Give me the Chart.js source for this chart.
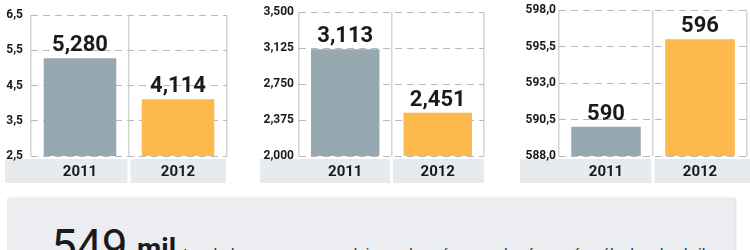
<!DOCTYPE html>
<html>
<head>
<meta charset="utf-8">
<script src="https://cdn.jsdelivr.net/npm/chart.js@4/dist/chart.umd.min.js"></script>
<style>
  html, body { margin: 0; padding: 0; background: #ffffff; }
  body { width: 750px; height: 250px; position: relative; overflow: hidden; font-family: Roboto, "Liberation Sans", sans-serif; }
  .panel { position: absolute; top: 0; width: 250px; height: 190px; }
  #p1 { left: 0; } #p2 { left: 250px; } #p3 { left: 500px; }
  #box { position: absolute; left: 7px; top: 198px; width: 727px; height: 60px; background: #ecedf0;
         box-shadow: 2px 0 2px rgba(0,0,0,0.12); }
  .t { position: absolute; white-space: nowrap; color: #1a1a1a; line-height: 1; font-family: Roboto, sans-serif; }
  #big { left: 51px; top: 223px; font-size: 46px; font-weight: 400; letter-spacing: -0.5px; }
  #mil { left: 137px; top: 235px; font-size: 28px; font-weight: 700; }
  #txt { left: 183px; top: 246.5px; font-size: 15.5px; font-weight: 400; color: #333; }
</style>
</head>
<body>
<div class="panel" id="p1"><canvas id="c1" width="250" height="190"></canvas></div>
<div class="panel" id="p2"><canvas id="c2" width="250" height="190"></canvas></div>
<div class="panel" id="p3"><canvas id="c3" width="250" height="190"></canvas></div>
<div id="box"></div>
<span class="t" id="big">549</span>
<span class="t" id="mil">mil</span>
<span class="t" id="txt">toneladas menos se produjeron de azúcar en el país, según cálculos de abril</span>
<script>
// ---- data ----
const categories = ["2011", "2012"];

const values1 = [5.280, 4.114];
const valueLabels1 = ["5,280", "4,114"];
const ticks1 = [2.5, 3.5, 4.5, 5.5, 6.5];
const tickLabels1 = ["2,5", "3,5", "4,5", "5,5", "6,5"];

const values2 = [3.113, 2.451];
const valueLabels2 = ["3,113", "2,451"];
const ticks2 = [2.0, 2.375, 2.75, 3.125, 3.5];
const tickLabels2 = ["2,000", "2,375", "2,750", "3,125", "3,500"];

const values3 = [590, 596];
const valueLabels3 = ["590", "596"];
const ticks3 = [588.0, 590.5, 593.0, 595.5, 598.0];
const tickLabels3 = ["588,0", "590,5", "593,0", "595,5", "598,0"];

const barColors = ["#97a9b0", "#fdb94c"];

// ---- plugins ----
const bandPlugin = {
  id: 'band',
  beforeDraw(chart) {
    const ctx = chart.ctx, x = chart.scales.x, y = chart.scales.y, ca = chart.chartArea;
    const mid = (x.getPixelForValue(0) + x.getPixelForValue(1)) / 2;
    const top = ca.bottom + 3, h = 24;
    ctx.save();
    ctx.fillStyle = '#e8ebee';
    ctx.fillRect(y.left, top, mid - 1.5 - y.left, h);
    ctx.fillRect(mid + 1.5, top, chart.options.bandRight - mid - 1.5, h);
    ctx.restore();
  }
};
const valuePlugin = {
  id: 'vals',
  afterDatasetsDraw(chart) {
    const ctx = chart.ctx;
    const meta = chart.getDatasetMeta(0);
    const labels = chart.options.valueLabels;
    ctx.save();
    ctx.font = '700 22px Roboto, "Liberation Sans", sans-serif';
    ctx.fillStyle = '#1a1a1a';
    ctx.textAlign = 'center';
    ctx.textBaseline = 'alphabetic';
    meta.data.forEach((bar, i) => {
      ctx.fillText(labels[i], bar.x, bar.y - 7);
    });
    ctx.restore();
  }
};

function makeChart(id, values, valueLabels, tickVals, tickLabels, cfg) {
  const min = tickVals[0], max = tickVals[tickVals.length - 1];
  return new Chart(document.getElementById(id), {
    type: 'bar',
    data: {
      labels: categories,
      datasets: [{ data: values, backgroundColor: barColors, borderWidth: 0,
                   categoryPercentage: 1, barPercentage: 0.74 }]
    },
    options: {
      responsive: false,
      animation: false,
      valueLabels: valueLabels,
      bandRight: cfg.bandRight,
      layout: { padding: { left: cfg.padLeft, right: cfg.padRight, top: 0, bottom: 6 } },
      plugins: { legend: { display: false }, tooltip: { enabled: false } },
      scales: {
        x: {
          grid: { display: true, drawTicks: false, color: '#d4d4d4', lineWidth: 1.5, offset: true },
          border: { display: false },
          ticks: { padding: 7, color: '#1a1a1a', font: { family: 'Roboto', weight: '700', size: 15 } },
          afterFit(s) { s.height = 28; }
        },
        y: {
          min: min, max: max,
          afterBuildTicks(s) { s.ticks = tickVals.map(v => ({ value: v })); },
          grid: { drawTicks: false, color: '#b8b8b8', lineWidth: 1 },
          border: { display: false, dash: [7, 5] },
          ticks: {
            padding: cfg.tickPad, color: '#1a1a1a',
            font: { family: 'Roboto', weight: '700', size: 12 },
            callback(v) { const i = tickVals.findIndex(t => Math.abs(t - v) < 1e-6); return i >= 0 ? tickLabels[i] : ''; }
          },
          afterFit(s) { s.width = cfg.yWidth; }
        }
      }
    },
    plugins: [bandPlugin, valuePlugin]
  });
}

makeChart('c1', values1, valueLabels1, ticks1, tickLabels1, { padLeft: 5, padRight: 23, yWidth: 26, tickPad: 8, bandRight: 226 });
makeChart('c2', values2, valueLabels2, ticks2, tickLabels2, { padLeft: 10, padRight: 16, yWidth: 39, tickPad: 5, bandRight: 234 });
makeChart('c3', values3, valueLabels3, ticks3, tickLabels3, { padLeft: 20, padRight: 3, yWidth: 39, tickPad: 3, bandRight: 250 });
</script>
</body>
</html>
